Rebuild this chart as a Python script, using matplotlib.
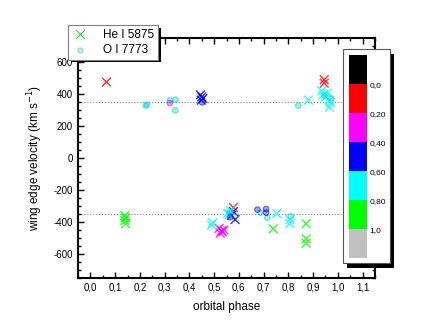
import matplotlib
matplotlib.use('Agg')
import matplotlib.pyplot as plt
import matplotlib.colors as mcolors
import matplotlib.patches as mpatches
from matplotlib.ticker import MultipleLocator, FuncFormatter
import numpy as np

plt.rcParams['font.family'] = ['Liberation Sans', 'DejaVu Sans']

# He I 5875 wing edge velocities (x markers), colour value = cycle fraction
he_phase = [0.065, 0.945, 0.945, 0.578,
            0.52, 0.53, 0.535, 0.54, 0.525,
            0.445, 0.45, 0.455, 0.448, 0.578, 0.585, 0.57,
            0.494, 0.49, 0.555, 0.565, 0.56, 0.753, 0.807, 0.807,
            0.881, 0.935, 0.94, 0.95, 0.958, 0.965, 0.97, 0.966,
            0.139, 0.142, 0.139, 0.142, 0.739, 0.872, 0.872, 0.872]
he_vel = [475, 490, 468, -310,
          -440, -455, -462, -450, -470,
          395, 382, 372, 362, -335, -385, -360,
          -405, -420, -345, -330, -355, -348, -385, -410,
          361, 420, 395, 380, 405, 360, 345, 318,
          -360, -375, -390, -410, -443, -411, -506, -533]
he_cycle = [0.1, 0.1, 0.1, 0.1,
            0.3, 0.3, 0.3, 0.3, 0.3,
            0.5, 0.5, 0.5, 0.5, 0.5, 0.5, 0.5,
            0.7, 0.7, 0.7, 0.7, 0.7, 0.7, 0.7, 0.7,
            0.7, 0.7, 0.7, 0.7, 0.7, 0.7, 0.7, 0.7,
            0.9, 0.9, 0.9, 0.9, 0.9, 0.9, 0.9, 0.9]

# O I 7773 wing edge velocities (circles)
o_phase = [0.224, 0.229, 0.321, 0.344, 0.343, 0.84, 0.945, 0.972,
           0.686, 0.715, 0.81, 0.562,
           0.321, 0.451, 0.675, 0.566, 0.71, 0.71]
o_vel = [327, 334, 361, 365, 298, 327, 390, 375,
         -342, -374, -365, -345,
         344, 348, -323, -370, -319, -342]
o_cycle = [0.7, 0.7, 0.7, 0.7, 0.7, 0.7, 0.7, 0.7,
           0.7, 0.7, 0.7, 0.7,
           0.3, 0.5, 0.5, 0.5, 0.5, 0.5]

bar_colors = ['#000000', '#ff0000', '#ff00ff', '#0000ff', '#00ffff', '#00ff00', '#c0c0c0']
bar_bounds = [-0.2, 0.0, 0.2, 0.4, 0.6, 0.8, 1.0, 1.2]
bar_ticks = [0.0, 0.2, 0.4, 0.6, 0.8, 1.0]
bar_labels = ['0,0', '0,20', '0,40', '0,60', '0,80', '1,0']

cmap = mcolors.ListedColormap(bar_colors)
norm = mcolors.BoundaryNorm(bar_bounds, cmap.N)

fig = plt.figure(figsize=(4.36, 3.34), dpi=100)
ax = fig.add_axes([0.179, 0.168, 0.681, 0.718])

ax.axhline(350, color='#808080', ls=':', lw=0.8, zorder=1)
ax.axhline(-350, color='#808080', ls=':', lw=0.8, zorder=1)

he_col = cmap(norm(he_cycle))
ax.scatter(he_phase, he_vel, marker='x', s=40, c=he_col, linewidths=1.0,
           alpha=0.8, zorder=3)

o_col = cmap(norm(o_cycle))
o_face = o_col.copy()
o_face[:, 3] = 0.35
o_edge = o_col.copy()
o_edge[:, 3] = 0.55
o_face[:, :3] = o_face[:, :3] * 0.8
o_edge[:, :3] = o_edge[:, :3] * 0.85
ax.scatter(o_phase, o_vel, marker='o', s=16, facecolors=o_face,
           edgecolors=o_edge, linewidths=0.8, zorder=3)

ax.set_ylim(-750, 750)
ax.xaxis.set_minor_locator(MultipleLocator(0.05))
ax.yaxis.set_major_locator(MultipleLocator(200))
ax.yaxis.set_minor_locator(MultipleLocator(50))
ax.set_xticks(np.arange(0, 1.15, 0.1))
ax.xaxis.set_major_formatter(FuncFormatter(lambda v, p: f'{v:.1f}'.replace('.', ',')))
ax.yaxis.set_major_formatter(FuncFormatter(lambda v, p: f'{v:.0f}'))
ax.set_xlim(-0.05, 1.15)
ax.tick_params(which='both', direction='in', top=True, right=True, labelsize=7, width=1)
ax.tick_params(which='major', length=4)
ax.tick_params(which='minor', length=2)
for s in ax.spines.values():
    s.set_linewidth(1.5)

ax.set_xlabel('orbital phase', fontsize=8.5, labelpad=6)
ax.set_ylabel('wing edge velocity (km s$^{-1}$)', fontsize=8.5, labelpad=6)

# legend
h1 = ax.scatter([], [], marker='x', s=40, c='#22dd22', linewidths=0.8)
h2 = ax.scatter([], [], marker='o', s=12, facecolors='#c8f0f0', edgecolors='#7fd8e0',
                linewidths=0.8)
leg = ax.legend([h1, h2], ['He I 5875', 'O I 7773'], loc='upper left',
                bbox_to_anchor=(68 / 436, 1 - 25 / 334), bbox_transform=fig.transFigure,
                borderaxespad=0, fontsize=8.5, fancybox=False, framealpha=1,
                edgecolor='#808080', handletextpad=1.2, labelspacing=0.3,
                borderpad=0.3, handlelength=1.5,
                shadow={'color': 'black', 'alpha': 1, 'linewidth': 0})
leg.get_frame().set_linewidth(0.8)
leg.set_zorder(10)

# colour key box with shadow
bx, by, bw, bh = 0.7874, 0.2117, 0.1078, 0.6407
fig.patches.append(mpatches.Rectangle((bx + 0.009, by - 0.015), bw, bh,
                                      transform=fig.transFigure, facecolor='black',
                                      edgecolor='none', zorder=5))
fig.patches.append(mpatches.Rectangle((bx, by), bw, bh, transform=fig.transFigure,
                                      facecolor='white', edgecolor='#555555',
                                      linewidth=0.8, zorder=6))

cax = fig.add_axes([0.801, 0.2266, 0.0406, 0.608])
cax.set_zorder(7)
sm = plt.cm.ScalarMappable(norm=norm, cmap=cmap)
cb = fig.colorbar(sm, cax=cax)
cb.outline.set_visible(False)
cb.set_ticks(bar_ticks, labels=bar_labels)
cb.ax.minorticks_off()
cb.ax.tick_params(which='both', length=0, labelsize=6, pad=2)
cb.ax.invert_yaxis()

fig.savefig('out.png', dpi=100)
